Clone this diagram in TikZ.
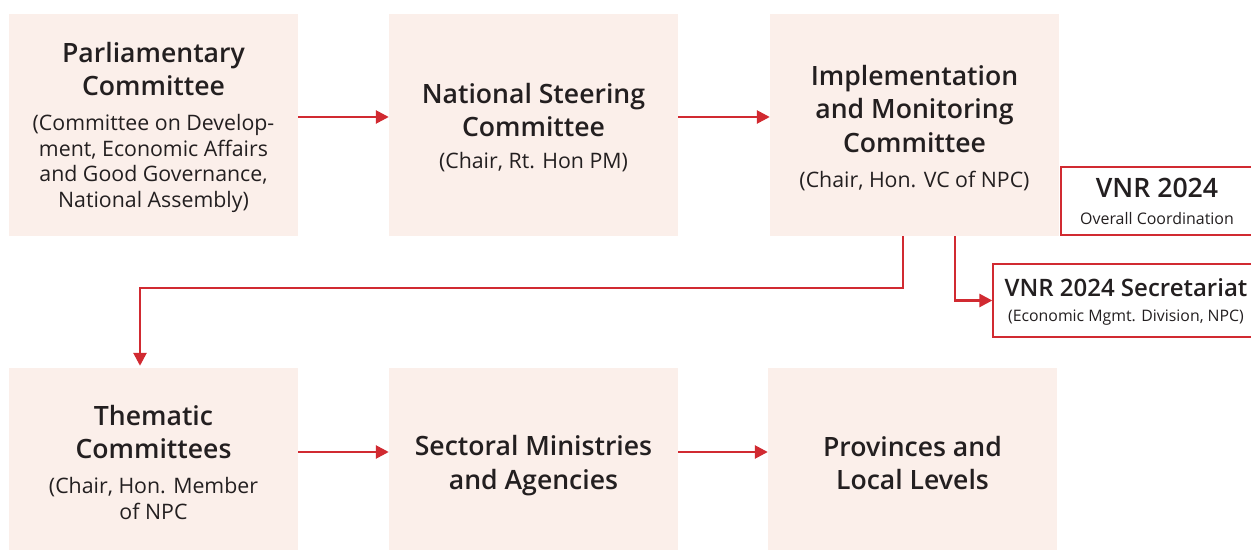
\documentclass[tikz,border=0pt]{standalone}
\usepackage{fontspec}
\IfFontExistsTF{Open Sans SemiBold}
  {\setmainfont{Open Sans}[BoldFont={Open Sans SemiBold}]}
  {\IfFontExistsTF{Open Sans Semibold}
    {\setmainfont{Open Sans}[BoldFont={Open Sans Semibold}]}
    {\setmainfont{Open Sans}}}
\usetikzlibrary{arrows.meta}
\definecolor{boxfill}{HTML}{FBEFEA}
\definecolor{redc}{HTML}{D12A31}
\definecolor{txt}{HTML}{231F20}
\tikzset{
  box/.style={fill=boxfill, draw=none, minimum width=289bp, minimum height=#1, inner sep=0pt},
  redbox/.style={draw=redc, line width=1.3bp, fill=white, inner sep=0pt},
  ttl/.style={font=\fontsize{26.7}{34}\selectfont\bfseries, text=txt, align=center, inner sep=0pt},
  subt/.style={font=\fontsize{21.4}{25.6}\selectfont, text=txt, align=center, inner sep=0pt},
  arr/.style={draw=redc, line width=2.6bp, -{Triangle[length=13bp,width=13bp]}},
}
\begin{document}
\begin{tikzpicture}[x=1bp,y=-1bp]
\useasboundingbox (0,0) rectangle (1251,550);
% top row
\node[box=222bp] (b1) at (153.5,125) {};
\node[box=222bp] (b2) at (533.5,125) {};
\node[box=222bp] (b3) at (914.5,125) {};
% bottom row
\node[box=182bp] (b4) at (153.5,459) {};
\node[box=182bp] (b5) at (533.5,459) {};
\node[box=182bp] (b6) at (912.5,459) {};
% red boxes
\node[redbox, minimum width=199bp, minimum height=68bp] (vnr) at (1160.5,201) {};
\node[redbox, minimum width=267bp, minimum height=73bp] (sec) at (1126.5,300.5) {};
% texts
\node[ttl] (t1) at (153.5,69) {Parliamentary\\Committee};
\node[subt] (s1) at (153.5,163.5) {(Committee on Develop-\\ment, Economic Affairs\\and Good Governance,\\National Assembly)};
\node[ttl] (t2) at (533.5,110) {National Steering\\Committee};
\node[subt] (s2) at (533.5,162) {(Chair, Rt. Hon PM)};
\node[ttl] (t3) at (914.5,109) {Implementation\\and Monitoring\\Committee};
\node[subt] (s3) at (914.5,181) {(Chair, Hon. VC of NPC)};
\node[ttl] (t4) at (153.5,432) {Thematic\\Committees};
\node[subt] (s4) at (153.5,498.5) {(Chair, Hon. Member\\of NPC};
\node[ttl] (t5) at (533.5,466) {Sectoral Ministries\\and Agencies};
\node[ttl] (t6) at (912.5,463) {Provinces and\\Local Levels};
\node[font=\fontsize{26.8}{30}\selectfont\bfseries, text=txt, inner sep=0pt] (vt) at (1157,188) {VNR 2024};
\node[font=\fontsize{16}{19}\selectfont, text=txt, inner sep=0pt] (vs) at (1157,219) {Overall Coordination};
\node[font=\fontsize{24.1}{28}\selectfont\bfseries, text=txt, inner sep=0pt] (st) at (1126,288) {VNR 2024 Secretariat};
\node[font=\fontsize{15.9}{19}\selectfont, text=txt, inner sep=0pt] (ss) at (1126,318) {(Economic Mgmt. Division, NPC)};
% connectors
\draw[arr] ([yshift=8bp]b1.east) -- ([yshift=8bp]b2.west);
\draw[arr] ([yshift=8bp]b2.east) -- ([yshift=8bp]b3.west);
\draw[arr] ([yshift=7bp]b4.east) -- ([yshift=7bp]b5.west);
\draw[arr] ([yshift=7bp]b5.east) -- ([yshift=7bp]b6.west);
\coordinate (e1) at (140,288);
\draw[arr, shorten >=2bp] ([xshift=-11.5bp]b3.south) |- (e1) -- (e1 |- b4.north);
\draw[arr] ([xshift=40.5bp]b3.south) |- (sec.west);
\end{tikzpicture}
\end{document}
